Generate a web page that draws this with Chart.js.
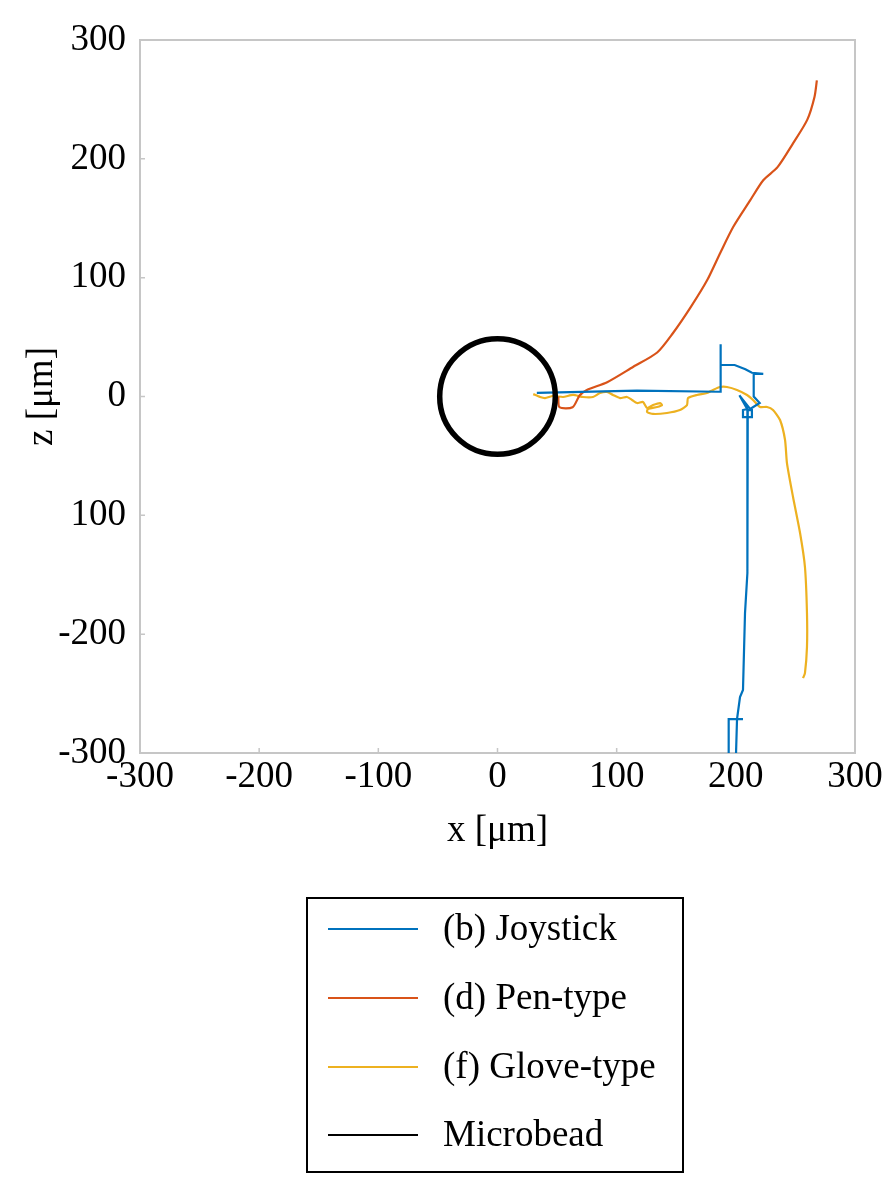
<!DOCTYPE html>
<html>
<head>
<meta charset="utf-8">
<script src="https://cdn.jsdelivr.net/npm/chart.js@4.4.1/dist/chart.umd.min.js"></script>
<style>
  body { margin: 0; background: #fff; }
</style>
</head>
<body>
<canvas id="trajChart" width="896" height="1189"></canvas>
<script>
// trajectories in the x-z plane [um]
var joystickX = [33, 117, 185, 187, 187, 187.5, 199, 208, 213.5, 223, 215, 215, 220, 212, 203, 209.5, 206, 206, 213.5, 213.5, 210, 210, 209.4, 207.7, 206, 203.5, 201, 200, null, 194, 194, 206];
var joystickZ = [3, 5, 4, 4, 44, 26.5, 26.5, 23, 20, 19, 19, 0, -5.5, -10.5, 1, -10.5, -11.4, -17.3, -17.3, -11.4, -11.4, -17.3, -148.6, -182.3, -247, -253, -271.5, -306, null, -306, -271.5, -271.5];

var penX = [51, 52, 63, 69, 75, 92, 114, 134, 147, 162, 176, 187, 198, 212, 223, 235, 248, 260, 266, 268];
var penZ = [0, -9, -9, 1, 5.5, 12, 25, 37, 53, 75, 98, 121, 143, 165, 182, 193, 213, 233, 252, 266];

var gloveX = [30, 35.7, 39.9, 46.6, 55, 63.4, 71.7, 80.1, 86, 91.9, 96.9, 102.8, 108.7, 112.9, 117.1, 122.1, 125.5, 130.5, 136.4, 138.1, 133.9, 126.3, 125.5, 130.5, 142.2, 153.1, 159, 159.9, 167.4, 175.8, 180.8, 186.7, 192.6, 201, 209.4, 214.4, 220.3, 226.2, 231.2, 237.1, 241.3, 242.9, 248, 253.9, 258, 259.7, 259.7, 258, 256.4];
var gloveZ = [2, -0.4, -1.3, 0.4, -0.4, 1.3, -0.4, -0.4, 2.9, 3.8, 1.3, -1.3, -0.4, -2.9, -5.5, -4.6, -9.7, -7.2, -5.5, -7.2, -8.8, -10.5, -13, -14.7, -13.9, -11.4, -7.2, -1.3, 1.3, 2.9, 5.5, 8, 8, 5.5, 1.3, -2.9, -8.8, -8.8, -11.4, -19.8, -36.6, -56, -84.6, -114.9, -143.5, -182.2, -210.9, -232.7, -237];

// microbead: centre and radius [um]
var beadX = [0];
var beadZ = [0];
var beadRadius = 48.5;

var seriesLabels = ['(b) Joystick', '(d) Pen-type', '(f) Glove-type', 'Microbead'];
var xTickLabels = ['-300', '-200', '-100', '0', '100', '200', '300'];
var zTickLabels = ['-300', '-200', '100', '0', '100', '200', '300'];

var fontFamily = '"Liberation Serif", "Times New Roman", serif';

function toPoints(xs, zs) {
	var pts = [];
	for (var i = 0; i < xs.length; i++) {
		pts.push({x: xs[i], y: zs[i]});
	}
	return pts;
}

// light grey box round the plot + short inward ticks
var framePlugin = {
	id: 'frame',
	beforeDatasetsDraw: function(chart) {
		var ctx = chart.ctx, a = chart.chartArea;
		var sx = chart.scales.x, sy = chart.scales.y;
		ctx.save();
		ctx.strokeStyle = '#c6c6c6';
		ctx.lineWidth = 2;
		ctx.strokeRect(a.left, a.top, a.right - a.left, a.bottom - a.top);
		ctx.lineWidth = 1.5;
		ctx.beginPath();
		sx.ticks.forEach(function(t) {
			var px = sx.getPixelForValue(t.value);
			ctx.moveTo(px, a.bottom);
			ctx.lineTo(px, a.bottom - 5);
		});
		sy.ticks.forEach(function(t) {
			var py = sy.getPixelForValue(t.value);
			ctx.moveTo(a.left, py);
			ctx.lineTo(a.left + 5, py);
		});
		ctx.stroke();
		ctx.restore();
	}
};

// boxed legend under the x title, one entry per row
var boxLegend = {
	id: 'boxLegend',
	afterDraw: function(chart) {
		var ctx = chart.ctx;
		var left = 307, top = 898, w = 376, h = 274;
		ctx.save();
		ctx.strokeStyle = '#000';
		ctx.lineWidth = 2;
		ctx.strokeRect(left, top, w, h);
		ctx.font = '37px ' + fontFamily;
		ctx.fillStyle = '#000';
		ctx.textBaseline = 'middle';
		var rows = [929, 998, 1067, 1135];
		chart.data.datasets.forEach(function(ds, i) {
			ctx.strokeStyle = ds.legendColor;
			ctx.lineWidth = 2;
			ctx.beginPath();
			ctx.moveTo(left + 21, rows[i]);
			ctx.lineTo(left + 111, rows[i]);
			ctx.stroke();
			ctx.fillText(ds.label, left + 136, rows[i] + 1);
		});
		ctx.restore();
	}
};

var lineOpts = {showLine: true, pointRadius: 0, borderWidth: 2.2, fill: false, tension: 0, spanGaps: false};

var chartdata = {
	datasets: [
		Object.assign({}, lineOpts, {label: seriesLabels[0], data: toPoints(joystickX, joystickZ), borderColor: '#0072BD', legendColor: '#0072BD'}),
		Object.assign({}, lineOpts, {label: seriesLabels[1], data: toPoints(penX, penZ), borderColor: '#D95319', legendColor: '#D95319', tension: 0.25}),
		Object.assign({}, lineOpts, {label: seriesLabels[2], data: toPoints(gloveX, gloveZ), borderColor: '#EDB120', legendColor: '#EDB120', tension: 0.2}),
		{
			label: seriesLabels[3],
			data: toPoints(beadX, beadZ),
			legendColor: '#000',
			showLine: false,
			pointStyle: 'circle',
			pointBackgroundColor: 'rgba(0,0,0,0)',
			pointBorderColor: '#000',
			pointBorderWidth: 5.5,
			// radius in pixels taken from the x scale so the bead keeps its size in um
			pointRadius: function(c) {
				var sx = c.chart.scales.x;
				if (!sx) return 0;
				return Math.abs(sx.getPixelForValue(beadRadius) - sx.getPixelForValue(0));
			},
			order: -1
		}
	]
};

var tickFont = {family: fontFamily, size: 37};

var options = {
	responsive: false,
	animation: false,
	layout: {padding: {left: 0, top: 40, right: 41, bottom: 336}},
	plugins: {
		legend: {display: false},
		tooltip: {enabled: false}
	},
	scales: {
		x: {
			type: 'linear',
			min: -300,
			max: 300,
			grid: {display: false, drawTicks: false},
			border: {display: false},
			ticks: {
				stepSize: 100,
				color: '#000',
				font: tickFont,
				padding: 2,
				maxRotation: 0,
				callback: function(v) { return xTickLabels[Math.round((v + 300) / 100)]; }
			},
			title: {display: true, text: 'x [μm]', color: '#000', font: tickFont, padding: {top: 0, bottom: 0}},
			afterFit: function(s) { s.height = 100; }
		},
		y: {
			type: 'linear',
			min: -300,
			max: 300,
			grid: {display: false, drawTicks: false},
			border: {display: false},
			ticks: {
				stepSize: 100,
				color: '#000',
				font: tickFont,
				padding: 14,
				callback: function(v) { return zTickLabels[Math.round((v + 300) / 100)]; }
			},
			title: {display: true, text: 'z [μm]', color: '#000', font: tickFont, padding: {top: 20, bottom: 0}},
			afterFit: function(s) { s.width = 140; }
		}
	}
};

var ctx = document.getElementById('trajChart');
var trajChart = new Chart(ctx, {
	type: 'scatter',
	data: chartdata,
	options: options,
	plugins: [framePlugin, boxLegend]
});
</script>
</body>
</html>
